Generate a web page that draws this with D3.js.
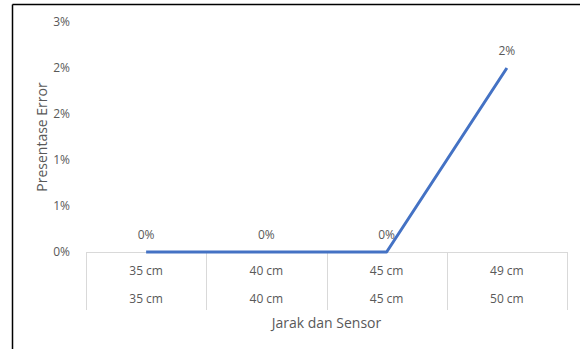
<!DOCTYPE html>
<html>
<head>
<meta charset="utf-8">
<script src="https://cdn.jsdelivr.net/npm/d3@7"></script>
<style>
  body { margin: 0; background: #fff; }
  text { font-family: "Open Sans", sans-serif; fill: #595959; }
</style>
</head>
<body>
<div id="chart"></div>
<script>
// data
const innerLabels = ["35 cm", "40 cm", "45 cm", "49 cm"];
const outerLabels = ["35 cm", "40 cm", "45 cm", "50 cm"];
const errorValues = [0, 0, 0, 0.02];
const dataLabels = ["0%", "0%", "0%", "2%"];
const yTickValues = [0, 0.005, 0.01, 0.015, 0.02, 0.025];
const yTickLabels = ["0%", "1%", "1%", "2%", "2%", "3%"];

const width = 580;
const height = 349;
const plot = { left: 86, right: 567, top: 22, bottom: 252 };

const svg = d3.select("#chart").append("svg")
    .attr("width", width)
    .attr("height", height);

// outer frame (only left and top visible in the crop)
svg.append("line").attr("x1", 12.5).attr("x2", width).attr("y1", 4.5).attr("y2", 4.5)
    .attr("stroke", "#000").attr("stroke-width", 1.5);
svg.append("line").attr("x1", 12.5).attr("x2", 12.5).attr("y1", 4.5).attr("y2", height)
    .attr("stroke", "#000").attr("stroke-width", 1.5);

const x = d3.scaleBand()
    .domain(d3.range(innerLabels.length))
    .range([plot.left, plot.right]);

const y = d3.scaleLinear()
    .domain([0, 0.025])
    .range([plot.bottom, plot.top]);

// y axis: labels only
const yAxis = svg.append("g")
    .attr("transform", "translate(" + (plot.left - 13) + ",0)")
    .call(d3.axisLeft(y).tickValues(yTickValues).tickSize(0)
        .tickFormat((d, i) => yTickLabels[i]));
yAxis.select(".domain").remove();
yAxis.selectAll("text").style("font-size", "12px").attr("fill", "#595959");

// category axis with two label rows and separators
svg.append("line")
    .attr("x1", plot.left).attr("x2", plot.right)
    .attr("y1", plot.bottom + 0.5).attr("y2", plot.bottom + 0.5)
    .attr("stroke", "#d9d9d9");

const bounds = x.domain().map(i => x(i)).concat([plot.right]);
svg.selectAll(".sep")
    .data(bounds)
    .enter().append("line")
    .attr("class", "sep")
    .attr("x1", d => Math.round(d) + 0.5).attr("x2", d => Math.round(d) + 0.5)
    .attr("y1", plot.bottom).attr("y2", 310)
    .attr("stroke", "#d9d9d9");

svg.selectAll(".inner")
    .data(innerLabels)
    .enter().append("text")
    .attr("class", "inner")
    .attr("x", (d, i) => x(i) + x.bandwidth() / 2)
    .attr("y", 275)
    .attr("text-anchor", "middle")
    .style("font-size", "12px")
    .text(d => d);

svg.selectAll(".outer")
    .data(outerLabels)
    .enter().append("text")
    .attr("class", "outer")
    .attr("x", (d, i) => x(i) + x.bandwidth() / 2)
    .attr("y", 303)
    .attr("text-anchor", "middle")
    .style("font-size", "12px")
    .text(d => d);

// line
const line = d3.line()
    .x((d, i) => x(i) + x.bandwidth() / 2)
    .y(d => y(d));

svg.append("path")
    .datum(errorValues)
    .attr("d", line)
    .attr("fill", "none")
    .attr("stroke", "#4472c4")
    .attr("stroke-width", 3)
    .attr("stroke-linejoin", "round");

svg.selectAll(".dlabel")
    .data(errorValues)
    .enter().append("text")
    .attr("class", "dlabel")
    .attr("x", (d, i) => x(i) + x.bandwidth() / 2)
    .attr("y", d => y(d) - 13)
    .attr("text-anchor", "middle")
    .style("font-size", "12px")
    .text((d, i) => dataLabels[i]);

// axis titles
svg.append("text")
    .attr("x", (plot.left + plot.right) / 2)
    .attr("y", 328)
    .attr("text-anchor", "middle")
    .style("font-size", "14px")
    .text("Jarak dan Sensor");

svg.append("text")
    .attr("transform", "translate(47," + ((plot.top + plot.bottom) / 2) + ") rotate(-90)")
    .attr("text-anchor", "middle")
    .style("font-size", "14px")
    .text("Presentase Error");
</script>
</body>
</html>
